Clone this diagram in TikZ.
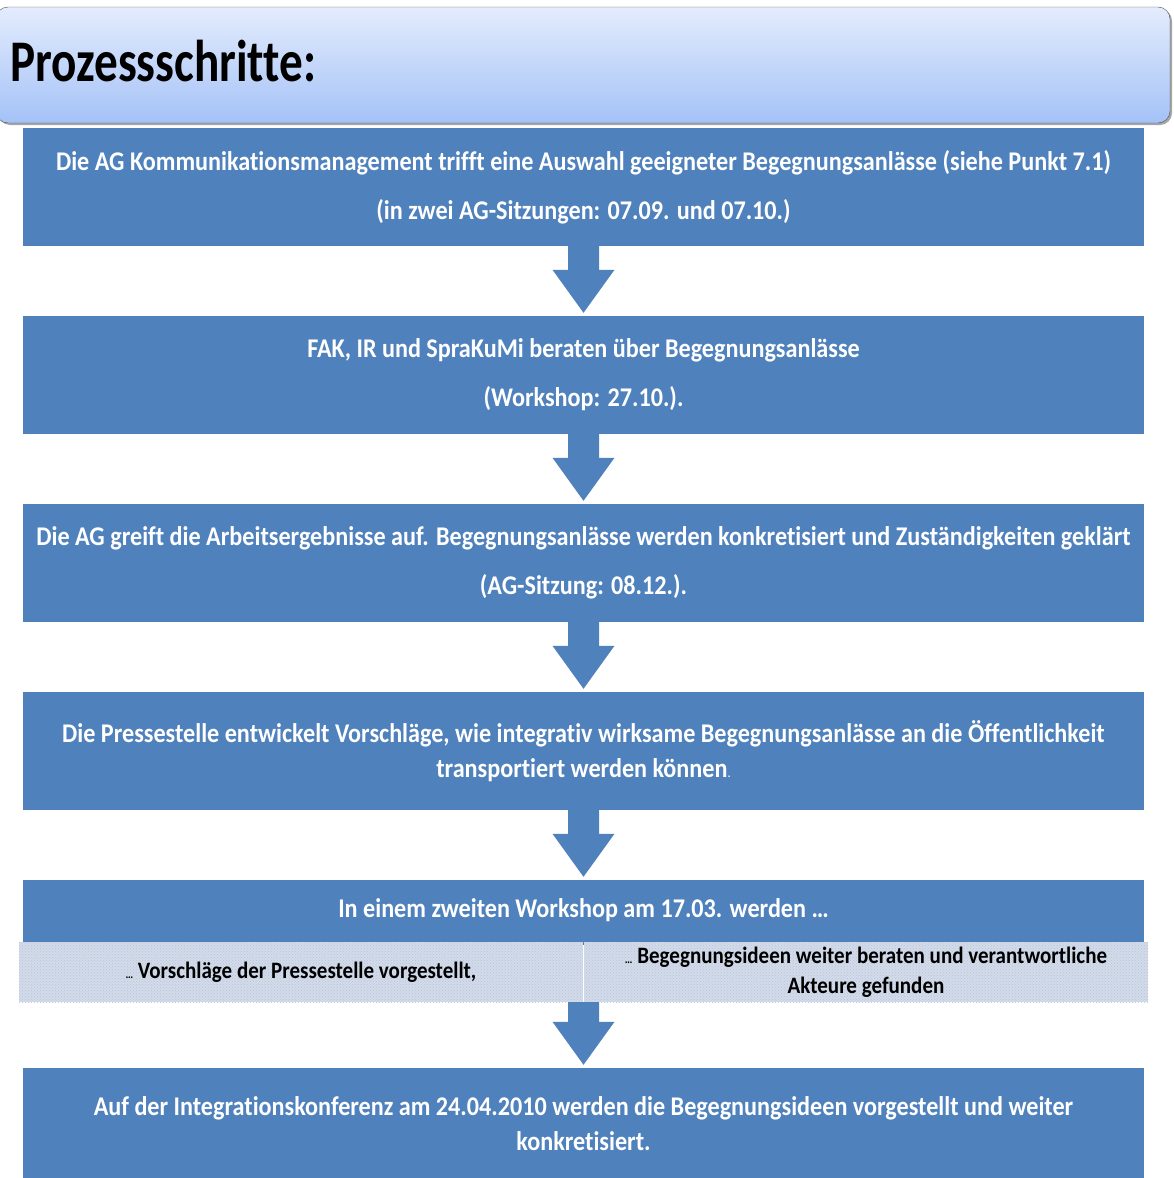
\documentclass[tikz,border=0pt]{standalone}
\usepackage{fontspec}
\setmainfont{Carlito}[FakeStretch=0.895,Ligatures=NoCommon]
\newfontfamily\headfont{Carlito}[FakeStretch=0.80,Ligatures=NoCommon]
\usetikzlibrary{calc,shadows,patterns}
\definecolor{stepblue}{HTML}{4F81BD}
\definecolor{headtop}{HTML}{E4ECFD}
\definecolor{headbot}{HTML}{A4C2F7}
\definecolor{subfill}{HTML}{D3DBE9}
\definecolor{subdots}{HTML}{B6C4DE}

% block arrow from the bottom of #1 down to the top of #2
\newcommand{\stepdown}[2]{%
  \fill[stepblue] ($(#2.north |- #1.south)+(-15.5,0)$) -- ($(#2.north)+(-15.5,-46)$)
    -- ($(#2.north)+(-31,-46)$) -- ($(#2.north)+(0,-3)$) -- ($(#2.north)+(31,-46)$)
    -- ($(#2.north)+(15.5,-46)$) -- ($(#2.north |- #1.south)+(15.5,0)$) -- cycle;}

\begin{document}
\begin{tikzpicture}[x=1pt,y=-1pt,
    stepbox/.style={fill=stepblue,text=white,minimum width=1121pt,inner sep=0pt,align=center,
      font=\bfseries\fontsize{27}{49}\selectfont},
    subbox/.style={fill=subfill,postaction={pattern=crosshatch dots,pattern color=subdots},
      minimum height=60pt,inner sep=0pt,align=center,
      font=\bfseries\fontsize{23.5}{30}\selectfont}]
  \useasboundingbox (0,0) rectangle (1173,1178);
  % title bar
  \draw[rounded corners=12pt,top color=headtop,bottom color=headbot,draw=gray!60!black,
    drop shadow={shadow xshift=2pt,shadow yshift=-2pt,opacity=0.7}] (-4,7) rectangle (1170,123);
  \node[anchor=base west,inner sep=0pt,font=\headfont\bfseries\fontsize{59}{60}\selectfont] (title) at (10,81) {Prozessschritte:};
  % steps
  \node[stepbox,minimum height=118pt] (s1) at (583.5,187)
    {Die AG Kommunikationsmanagement trifft eine Auswahl geeigneter Begegnungsanlässe (siehe Punkt 7.1)\\(in zwei AG-Sitzungen: 07.09. und 07.10.)};
  \node[stepbox,minimum height=118pt] (s2) at (583.5,375)
    {FAK, IR und SpraKuMi beraten über Begegnungsanlässe\\(Workshop: 27.10.).};
  \node[stepbox,minimum height=118pt] (s3) at (583.5,563)
    {Die AG greift die Arbeitsergebnisse auf. Begegnungsanlässe werden konkretisiert und Zuständigkeiten geklärt\\(AG-Sitzung: 08.12.).};
  \node[stepbox,minimum height=118pt,font=\bfseries\fontsize{27}{35}\selectfont] (s4) at (583.5,751)
    {Die Pressestelle entwickelt Vorschläge, wie integrativ wirksame Begegnungsanlässe an die Öffentlichkeit\\transportiert werden können{\mdseries\fontsize{14}{14}\selectfont.}};
  \node[stepbox,minimum height=65pt] (s5) at (583.5,912.5) {};
  \node[text=white,font=\bfseries\fontsize{27}{35}\selectfont] (s5t) at (583.5,910) {In einem zweiten Workshop am 17.03. werden \dots};
  \node[subbox,minimum width=564pt] (s5a) at (301,972)
    {{\fontsize{12}{12}\selectfont\dots} Vorschläge der Pressestelle vorgestellt,};
  \node[subbox,minimum width=564pt] (s5b) at (866,972)
    {{\fontsize{12}{12}\selectfont\dots} Begegnungsideen weiter beraten und verantwortliche\\Akteure gefunden};
  \node[stepbox,minimum height=112pt,font=\bfseries\fontsize{27}{35}\selectfont] (s6) at (583.5,1124)
    {Auf der Integrationskonferenz am 24.04.2010 werden die Begegnungsideen vorgestellt und weiter\\konkretisiert.};
  % arrows
  \stepdown{s1}{s2}
  \stepdown{s2}{s3}
  \stepdown{s3}{s4}
  \stepdown{s4}{s5}
  \stepdown{s5a}{s6}
\end{tikzpicture}
\end{document}
